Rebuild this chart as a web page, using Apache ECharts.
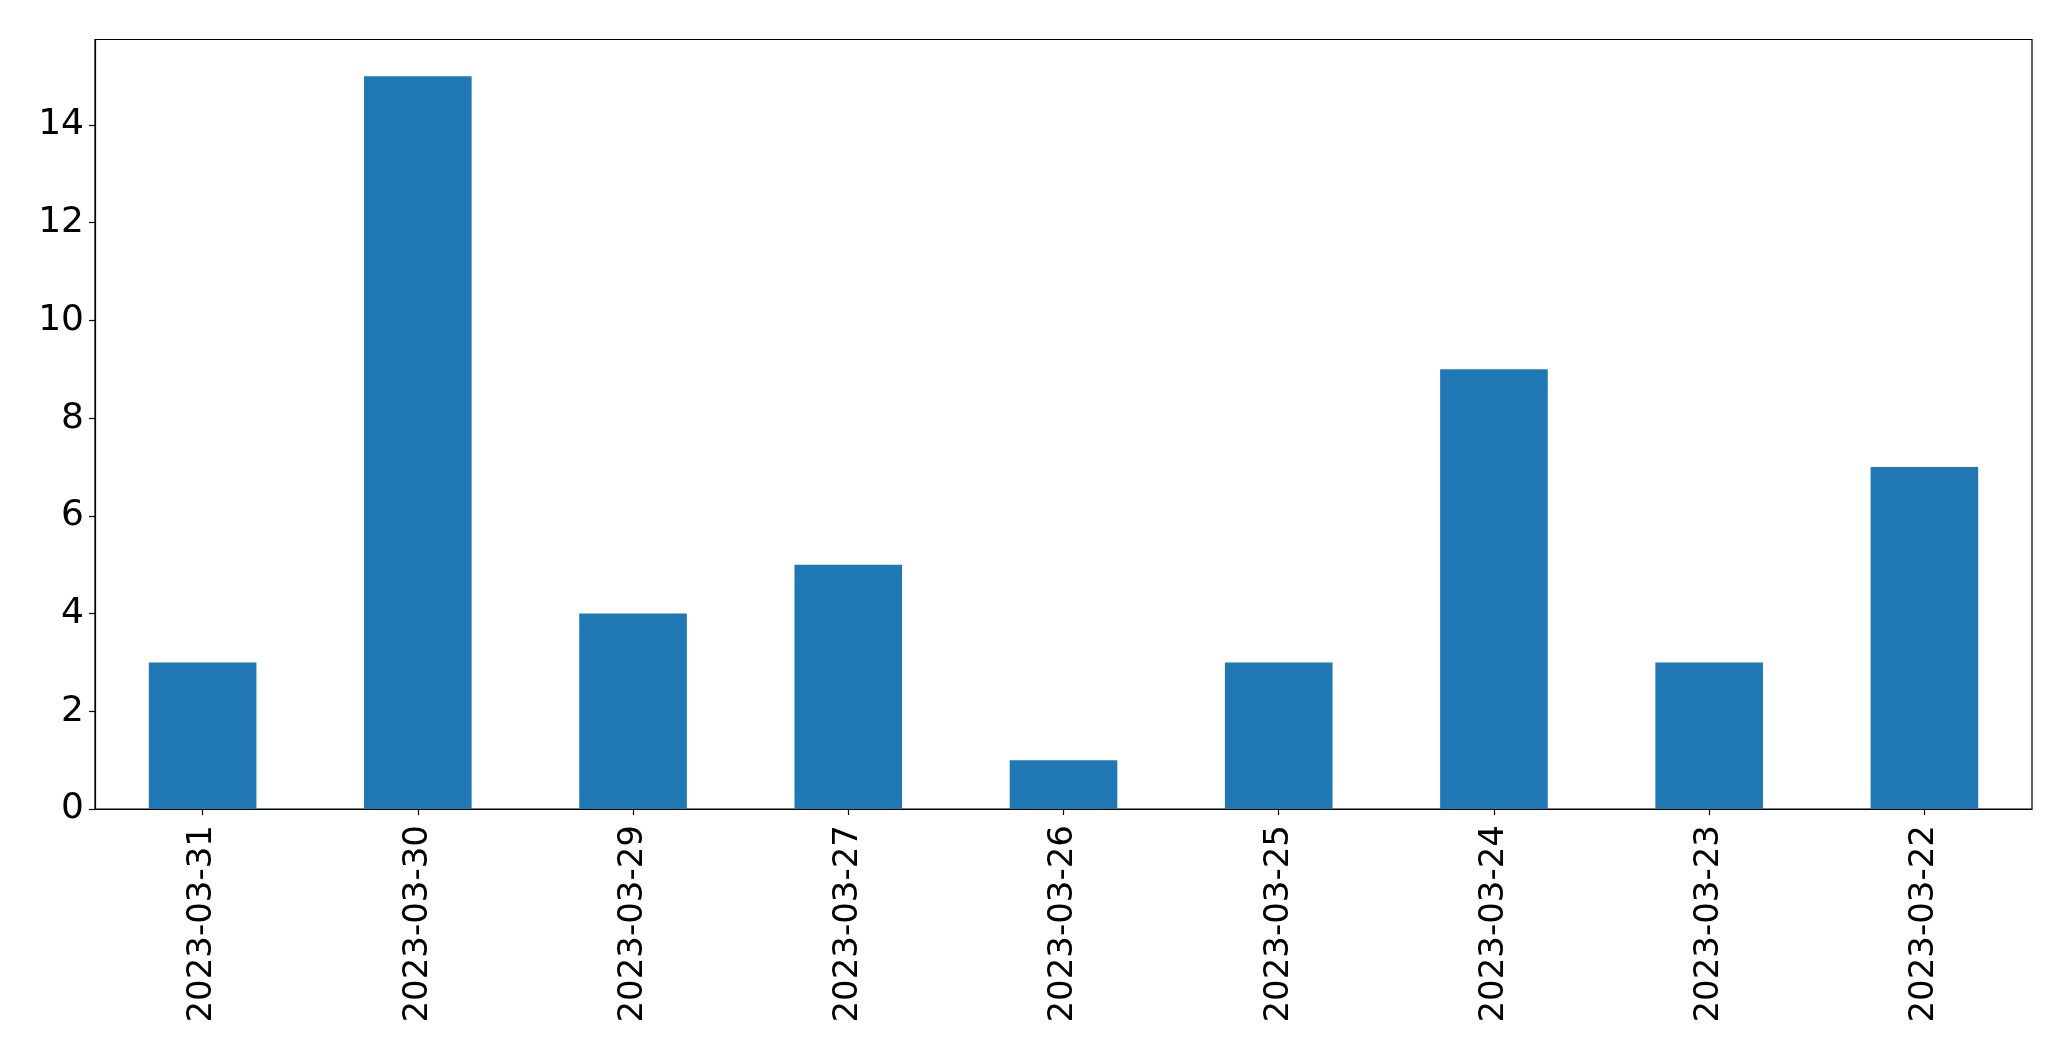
<!DOCTYPE html>
<html>
<head>
<meta charset="utf-8">
<script src="https://cdn.jsdelivr.net/npm/echarts@6/dist/echarts.min.js"></script>
<style>
html,body{margin:0;padding:0;background:#fff;}
#chart{width:2071px;height:1061px;}
</style>
</head>
<body>
<div id="chart"></div>
<script>
const categories = ["2023-03-31","2023-03-30","2023-03-29","2023-03-27","2023-03-26","2023-03-25","2023-03-24","2023-03-23","2023-03-22"];
const values = [3, 15, 4, 5, 1, 3, 9, 3, 7];
const yMax = 15.75;
const yInterval = 2;

const chart = echarts.init(document.getElementById('chart'), null, {renderer: 'canvas'});
const font = 'DejaVu Sans';
chart.setOption({
  animation: false,
  backgroundColor: '#fff',
  grid: {
    left: 95, right: 39, top: 39.5, bottom: 252,
    show: true, borderColor: '#000', borderWidth: 1.2, backgroundColor: 'transparent'
  },
  xAxis: {
    type: 'category',
    data: categories,
    boundaryGap: true,
    axisLine: {show: true, lineStyle: {color: '#000', width: 1.2}},
    axisTick: {show: true, alignWithLabel: true, length: 6, lineStyle: {color: '#000', width: 1.2}},
    axisLabel: {rotate: 90, color: '#000', fontFamily: font, fontSize: 34, margin: 16, interval: 0},
    splitLine: {show: false}
  },
  yAxis: {
    type: 'value',
    min: 0, max: yMax, interval: yInterval,
    axisLine: {show: true, lineStyle: {color: '#000', width: 1.2}},
    axisTick: {show: true, length: 6, lineStyle: {color: '#000', width: 1.2}},
    axisLabel: {color: '#000', fontFamily: font, fontSize: 36, margin: 11, showMaxLabel: false},
    splitLine: {show: false}
  },
  series: [{
    type: 'bar',
    data: values,
    barWidth: '50%',
    itemStyle: {color: '#1f77b4'}
  }]
});
</script>
</body>
</html>
